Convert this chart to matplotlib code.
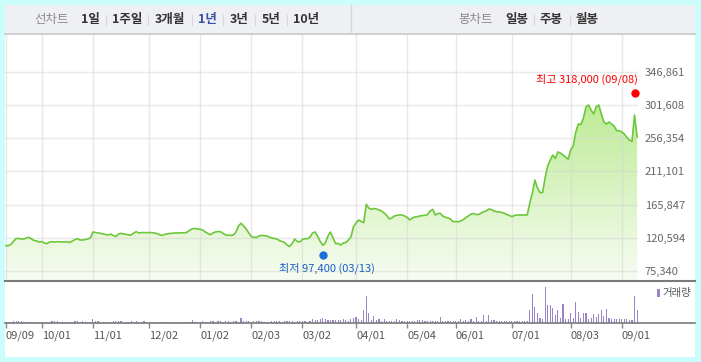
import matplotlib
matplotlib.use('Agg')
import matplotlib.pyplot as plt
import numpy as np
from matplotlib.patches import Rectangle, Polygon
from matplotlib.lines import Line2D
from matplotlib.colors import LinearSegmentedColormap

plt.rcParams['font.family'] = ['Noto Sans CJK KR', 'DejaVu Sans']

W, H = 701, 362

# closing price, thousand won, one value per trading day
price = [
    109.8, 109.8, 112.0, 116.0, 119.6, 119.6, 118.9, 118.9, 120.3, 121.2,
    118.9, 116.8, 116.2, 114.8, 115.5, 113.4, 112.5, 114.8, 115.2, 114.8,
    115.2, 115.2, 114.8, 115.2, 114.8, 114.4, 116.2, 118.2, 119.3, 117.5,
    117.5, 118.2, 118.9, 120.3, 128.4, 127.7, 127.1, 126.6, 125.7, 125.0,
    124.3, 125.7, 123.6, 122.3, 125.7, 126.6, 125.7, 125.3, 124.3, 124.3,
    127.1, 128.8, 127.1, 127.5, 127.7, 127.5, 127.7, 127.5, 127.1, 126.4,
    125.0, 123.6, 125.0, 125.7, 126.4, 126.6, 127.1, 127.1, 127.1, 127.5,
    127.1, 128.4, 131.1, 132.9, 133.2, 132.5, 132.1, 131.1, 128.4, 126.4,
    124.7, 127.1, 128.4, 129.1, 128.8, 126.4, 124.3, 123.9, 123.9, 124.3,
    128.4, 136.6, 140.3, 136.6, 132.5, 127.1, 122.3, 121.2, 120.9, 123.0,
    123.9, 123.2, 123.0, 121.6, 120.3, 119.6, 118.9, 116.8, 115.5, 114.1,
    110.7, 108.7, 112.8, 118.9, 115.5, 114.8, 118.2, 119.3, 119.3, 121.6,
    127.1, 128.4, 122.3, 115.5, 110.3, 113.4, 123.0, 128.4, 120.3, 112.8,
    112.8, 110.7, 113.4, 114.1, 117.5, 121.6, 135.6, 140.7, 144.8, 142.7,
    141.1, 166.1, 161.0, 159.3, 160.4, 159.7, 158.5, 157.0, 154.3, 150.9,
    146.1, 147.5, 150.2, 151.1, 151.6, 151.6, 150.2, 148.4, 144.8, 147.5,
    148.8, 149.3, 150.2, 150.9, 151.1, 152.2, 157.0, 159.3, 151.6, 153.6,
    153.6, 150.2, 148.4, 147.5, 146.1, 142.4, 142.7, 142.4, 143.4, 145.4,
    148.1, 150.2, 152.9, 153.6, 152.2, 152.2, 154.3, 156.1, 157.0, 159.7,
    159.0, 157.0, 156.1, 155.7, 155.0, 153.9, 152.2, 150.9, 149.3, 150.9,
    151.6, 151.6, 151.6, 151.6, 151.6, 167.9, 181.1, 199.2, 188.3, 182.2,
    181.9, 201.9, 218.2, 226.4, 233.2, 228.4, 237.3, 235.9, 233.2, 230.5,
    227.4, 240.0, 245.5, 264.5, 275.4, 274.7, 283.6, 298.6, 301.3, 294.5,
    289.0, 299.0, 301.3, 289.0, 278.1, 275.4, 278.1, 275.4, 272.7, 266.3,
    266.3, 264.5, 261.8, 257.3, 253.6, 251.6, 287.7, 258.0,
]

# traded volume, thousand shares
volume = [
    4, 4, 4, 13, 13, 13, 13, 4, 4, 4,
    4, 4, 4, 4, 4, 4, 4, 4, 13, 13,
    13, 4, 4, 4, 4, 4, 4, 13, 13, 4,
    13, 4, 4, 4, 33, 15, 15, 4, 4, 4,
    4, 4, 13, 13, 13, 13, 4, 4, 4, 13,
    4, 13, 4, 4, 13, 4, 4, 4, 4, 4,
    4, 4, 4, 4, 4, 4, 4, 4, 4, 4,
    4, 4, 4, 27, 4, 4, 4, 13, 4, 4,
    13, 13, 4, 13, 13, 4, 13, 13, 4, 20,
    20, 8, 50, 20, 13, 13, 4, 13, 13, 13,
    13, 4, 4, 4, 13, 13, 13, 13, 4, 13,
    13, 13, 13, 4, 13, 13, 13, 13, 4, 15,
    40, 25, 30, 35, 45, 40, 30, 30, 25, 30,
    28, 30, 35, 25, 20, 40, 47, 57, 33, 27,
    127, 267, 100, 27, 67, 27, 40, 20, 40, 20,
    20, 20, 20, 40, 27, 20, 15, 15, 20, 15,
    20, 25, 25, 25, 15, 15, 20, 15, 15, 20,
    60, 15, 15, 20, 20, 15, 20, 20, 40, 20,
    27, 20, 40, 20, 53, 20, 20, 73, 20, 73,
    30, 30, 20, 20, 15, 15, 15, 15, 15, 15,
    15, 15, 15, 15, 15, 127, 283, 160, 93, 50,
    40, 353, 173, 177, 150, 73, 127, 50, 183, 40,
    40, 100, 50, 207, 107, 50, 100, 93, 40, 50,
    83, 60, 83, 127, 67, 140, 50, 40, 40, 40,
    40, 40, 40, 40, 27, 27, 267, 127,
]
assert len(price) == len(volume)

tick_pos = [0, 14, 34, 56, 76, 96, 116, 137, 157, 176, 198, 221, 241]
tick_labels = ['09/09', '10/01', '11/01', '12/02', '01/02', '02/03', '03/02',
               '04/01', '05/04', '06/01', '07/01', '08/03', '09/01']
y_ticks = [75340, 120594, 165847, 211101, 256354, 301608, 346861]

high_idx, high_val, high_text = 246, 318000, '최고 318,000 (09/08)'
low_idx, low_val, low_text = 124, 97400, '최저 97,400 (03/13)'

periods = ['1일', '1주일', '3개월', '1년', '3년', '5년', '10년']
period_x = [90, 127, 170, 207.5, 239, 271, 306]
candles = ['일봉', '주봉', '월봉']
candle_x = [516.5, 551.5, 587]


def box(x0, y0, x1, y1):
    # pixel box (from top-left) -> figure rect
    return [x0 / W, 1 - y1 / H, (x1 - x0) / W, (y1 - y0) / H]


def fx(x):
    return x / W


def fy(y):
    return 1 - y / H


fig = plt.figure(figsize=(W / 100, H / 100), dpi=100)
fig.patch.set_facecolor('#ccfdfd')
fig.patches.append(Rectangle((fx(5), fy(357)), 690 / W, 352 / H, transform=fig.transFigure,
                             facecolor='white', edgecolor='none', zorder=-2))
fig.patches.append(Rectangle((fx(5), fy(33)), 690 / W, 28 / H, transform=fig.transFigure,
                             facecolor='#eff0f4', edgecolor='none', zorder=-1))
fig.add_artist(Line2D([fx(5), fx(695)], [fy(33.5), fy(33.5)], color='#c6c7cb', lw=1.2))
fig.add_artist(Line2D([fx(350.5), fx(350.5)], [fy(5), fy(33)], color='#d6d7db', lw=1))

# top menu
fig.text(fx(52), fy(20), '선차트', color='#8a8a8a', fontsize=9, ha='center', va='center')
for lbl, x in zip(periods, period_x):
    col = '#3550a8' if lbl == '1년' else '#333333'
    fig.text(fx(x), fy(20), lbl, color=col, fontsize=9, fontweight='bold', ha='center', va='center')
for x in [106, 148, 192, 223, 255, 287]:
    fig.add_artist(Line2D([fx(x), fx(x)], [fy(15), fy(25)], color='#d8d8dc', lw=0.8))
fig.text(fx(476), fy(20), '봉차트', color='#8a8a8a', fontsize=9, ha='center', va='center')
for lbl, x in zip(candles, candle_x):
    fig.text(fx(x), fy(20), lbl, color='#333333', fontsize=9, fontweight='bold', ha='center', va='center')
for x in [534, 570]:
    fig.add_artist(Line2D([fx(x), fx(x)], [fy(15), fy(25)], color='#d8d8dc', lw=0.8))

# price panel
px_per_day = 2.555
won_per_px = 45253.5 / 33.25
x = np.arange(len(price))
p = np.array(price) * 1000
ylo = 75340 - 9 * won_per_px
yhi = 75340 + 236 * won_per_px

ax = fig.add_axes(box(5, 35, 638, 280))
ax.set_facecolor('none')
ax.set_xlim(-1 / px_per_day, 632 / px_per_day)
ax.set_ylim(ylo, yhi)
for s in ax.spines.values():
    s.set_visible(False)

cmap = LinearSegmentedColormap.from_list('g', ['#f7fcf2', '#bdeb96'])
grad = np.linspace(0, 1, 256).reshape(-1, 1)
im = ax.imshow(grad, cmap=cmap, origin='lower', aspect='auto',
               extent=[x[0], x[-1], ylo, 301608], zorder=1)
poly = Polygon([(x[0], ylo)] + list(zip(x, p)) + [(x[-1], ylo)], closed=True,
               facecolor='none', edgecolor='none')
ax.add_patch(poly)
im.set_clip_path(poly)
ax.set_xlim(-1 / px_per_day, 632 / px_per_day)
ax.set_ylim(ylo, yhi)

ax.set_xticks(tick_pos)
ax.set_yticks(y_ticks)
ax.grid(True, color='#d4d4d4', alpha=0.5, lw=1, zorder=2)
ax.set_axisbelow(False)
ax.tick_params(axis='x', length=0, labelbottom=False)
ax.yaxis.tick_right()
ax.tick_params(axis='y', length=0, pad=5, labelsize=8, labelcolor='#666666')
ax.set_yticklabels([f'{v:,}' for v in y_ticks])

ax.plot(x, p, color='#6cc83a', lw=1.2, zorder=3)
ax.plot([high_idx], [high_val], 'o', color='#ff0000', ms=5, zorder=4, clip_on=False)
ax.plot([low_idx], [low_val], 'o', color='#1b6fd8', ms=5, zorder=4)
fig.text(fx(638), fy(79), high_text, color='#ff0000', fontsize=8, ha='right', va='center')
fig.text(fx(327), fy(268), low_text, color='#1b5fc8', fontsize=8, ha='center', va='center')

# volume panel
ax2 = fig.add_axes(box(5, 281, 695, 322.7))
ax2.set_facecolor('none')
ax2.bar(x, volume, width=0.45, color='#9a84c8', linewidth=0)
ax2.set_xlim(-1 / px_per_day, 689 / px_per_day)
ax2.set_ylim(0, 417)
for side in ['left', 'right']:
    ax2.spines[side].set_visible(False)
ax2.spines['top'].set_color('#7a7a7a')
ax2.spines['top'].set_linewidth(1.5)
ax2.spines['bottom'].set_color('#7a7a7a')
ax2.spines['bottom'].set_linewidth(1.2)
ax2.set_yticks([])
ax2.set_xticks(tick_pos)
ax2.set_xticklabels(tick_labels, ha='left')
ax2.tick_params(axis='x', length=3.5, width=1, color='#888888', pad=2,
                labelsize=8, labelcolor='#555555')

fig.patches.append(Rectangle((fx(656.7), fy(297)), 3 / W, 8 / H, transform=fig.transFigure,
                             facecolor='#9a84c8', edgecolor='none'))
fig.text(fx(662), fy(293), '거래량', color='#555555', fontsize=7.5, ha='left', va='center')

fig.savefig('out.png', dpi=100)
